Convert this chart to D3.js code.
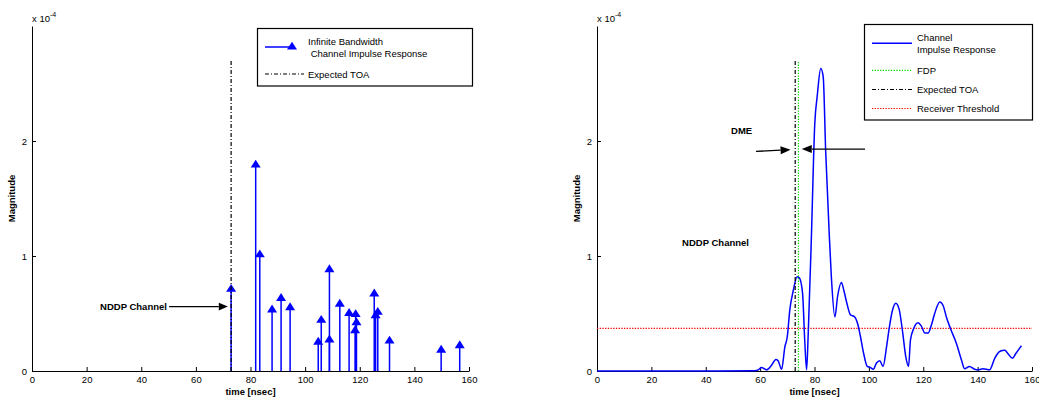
<!DOCTYPE html>
<html>
<head>
<meta charset="utf-8">
<script src="https://cdn.jsdelivr.net/npm/d3@7/dist/d3.min.js"></script>
<style>
  html, body { margin: 0; padding: 0; background: #fff; }
  svg { display: block; }
  text { font-family: "Liberation Sans", Arial, sans-serif; fill: #000; }
</style>
</head>
<body>
<svg id="fig" width="1039" height="399"></svg>
<script>
// ---- data (magnitudes in units of 1e-4, time in nsec) ----
const xTicks = [0, 20, 40, 60, 80, 100, 120, 140, 160];
const yTicks = [0, 1, 2];

// Infinite-bandwidth channel impulse response (stem taps)
const stemTimes = [72.9, 81.9, 83.4, 87.9, 91.2, 94.5, 104.8, 105.9, 108.9, 108.9,
                   112.7, 116.1, 118.5, 118.8, 118.3, 125.3, 125.8, 126.6, 130.9, 149.8, 156.6];
const stemMags  = [0.72, 1.80, 1.02, 0.54, 0.64, 0.56, 0.26, 0.45, 0.89, 0.28,
                   0.59, 0.51, 0.50, 0.43, 0.36, 0.68, 0.49, 0.52, 0.27, 0.19, 0.23];

// Band-limited channel impulse response
const cirTimes = [0, 20, 40, 58, 59.3, 60.5, 62.4, 64.2, 65.8, 66.6, 67.9, 69.1, 70.0, 70.9,
                  72.2, 73.6, 74.4, 75.6, 76.4, 77.1, 77.7, 78.9, 80.1, 81.0, 82.3, 83.2,
                  84.1, 85.4, 86.2, 87.5, 88.5, 89.9, 90.8, 91.8, 93.2, 94.8, 96.0, 96.9,
                  98.1, 99.4, 100.6, 101.6, 102.8, 104.0, 105.2, 106.5, 107.4, 108.7, 109.9,
                  111.1, 112.3, 113.6, 114.6, 115.3, 116.5, 118.1, 119.3, 120.6, 121.8, 123.0,
                  124.2, 126.1, 127.3, 128.5, 130.0, 132.2, 134.0, 135.2, 137.0, 138.9, 140.2,
                  142.0, 144.4, 146.3, 148.1, 150.0, 151.2, 152.8, 154.0, 156.1];
const cirMags  = [0, 0, 0, 0.003, 0.01, 0.03, 0.01, 0.05, 0.10, 0.09, 0.015, 0.21, 0.30, 0.53,
                  0.70, 0.82, 0.81, 0.68, 0.27, 0.01, 0.33, 1.20, 2.15, 2.39, 2.63, 2.56,
                  1.92, 1.20, 0.82, 0.47, 0.65, 0.77, 0.70, 0.60, 0.49, 0.47, 0.40, 0.30,
                  0.15, 0.04, 0.03, 0.015, 0.07, 0.09, 0.04, 0.21, 0.36, 0.53, 0.59,
                  0.54, 0.36, 0.12, 0.04, 0.27, 0.37, 0.42, 0.39, 0.33, 0.33, 0.40,
                  0.50, 0.60, 0.57, 0.47, 0.37, 0.24, 0.10, 0.02, 0.04, 0.015, 0.01,
                  0.02, 0.01, 0.11, 0.17, 0.18, 0.15, 0.11, 0.15, 0.22];

const expectedTOA = 72.9;   // nsec
const fdpTime = 74.1;       // first detected path, nsec
const markerHeight = 2.7;   // height of the vertical reference lines
const rxThreshold = 0.37;   // receiver threshold

const xDomain = [0, 160];
const yDomain = [0, 3];

// ---- layout ----
const svg = d3.select("#fig");
const plotTop = 26, plotBottom = 371;
const panels = [
  { left: 32,  right: 469 },
  { left: 597, right: 1032 }
];

const BLUE = "#0000ff";
const DASHDOT = "4,2,1,2";
const DOTTED = "1.3,1.4";

function setupPanel(p) {
  const x = d3.scaleLinear().domain(xDomain).range([p.left, p.right]);
  const y = d3.scaleLinear().domain(yDomain).range([plotBottom, plotTop]);
  const g = svg.append("g");

  const xa = g.append("g").attr("transform", `translate(0,${plotBottom})`)
    .call(d3.axisBottom(x).tickValues(xTicks).tickFormat(d3.format("d"))
      .tickSizeInner(-4).tickSizeOuter(0).tickPadding(5));
  const ya = g.append("g").attr("transform", `translate(${p.left},0)`)
    .call(d3.axisLeft(y).tickValues(yTicks).tickFormat(d3.format("d"))
      .tickSizeInner(-4).tickSizeOuter(0).tickPadding(5));
  [xa, ya].forEach(a => {
    a.selectAll("path.domain").attr("stroke", "#000").attr("stroke-width", 1);
    a.selectAll(".tick line").attr("stroke", "#000");
    a.selectAll(".tick text").attr("font-size", 9.5).attr("font-family", "Liberation Sans, Arial, sans-serif");
  });

  // exponent label
  const ex = g.append("text").attr("x", p.left).attr("y", 22).attr("font-size", 9.5);
  ex.append("tspan").text("x 10");
  ex.append("tspan").attr("dy", -5).attr("font-size", 7).text("-4");

  // axis titles
  g.append("text").attr("x", (p.left + p.right) / 2).attr("y", 395)
    .attr("text-anchor", "middle").attr("font-size", 9.5).attr("font-weight", "bold")
    .text("time [nsec]");
  g.append("text").attr("transform", `translate(${p.left - 17},${(plotTop + plotBottom) / 2}) rotate(-90)`)
    .attr("text-anchor", "middle").attr("font-size", 9.5).attr("font-weight", "bold")
    .text("Magnitude");

  return { g, x, y };
}

function arrow(g, x1, y1, x2, y2, headLen, headHalf) {
  const ang = Math.atan2(y2 - y1, x2 - x1);
  const bx = x2 - headLen * Math.cos(ang), by = y2 - headLen * Math.sin(ang);
  g.append("line").attr("x1", x1).attr("y1", y1).attr("x2", bx).attr("y2", by)
    .attr("stroke", "#000").attr("stroke-width", 1.3);
  const px = -Math.sin(ang) * headHalf, py = Math.cos(ang) * headHalf;
  g.append("path")
    .attr("d", `M${x2},${y2}L${bx + px},${by + py}L${bx - px},${by - py}Z`)
    .attr("fill", "#000");
}

const triPath = "M0,-4.3L5,3.6L-5,3.6Z";

// ---- left panel: stem plot ----
{
  const { g, x, y } = setupPanel(panels[0]);

  const stems = g.append("g");
  stemTimes.forEach((t, i) => {
    stems.append("line")
      .attr("x1", x(t)).attr("x2", x(t))
      .attr("y1", y(0)).attr("y2", y(stemMags[i]))
      .attr("stroke", BLUE).attr("stroke-width", 1.5);
  });
  stemTimes.forEach((t, i) => {
    stems.append("path").attr("d", triPath)
      .attr("transform", `translate(${x(t)},${y(stemMags[i])})`)
      .attr("fill", BLUE);
  });

  g.append("line")
    .attr("x1", x(expectedTOA)).attr("x2", x(expectedTOA))
    .attr("y1", y(0)).attr("y2", y(markerHeight))
    .attr("stroke", "#000").attr("stroke-width", 1.2).attr("stroke-dasharray", DASHDOT);

  // annotation
  g.append("text").attr("x", x(49.4)).attr("y", y(0.56)).attr("dy", "0.35em")
    .attr("text-anchor", "end").attr("font-size", 9.5).attr("font-weight", "bold")
    .text("NDDP Channel");
  arrow(g, x(50.2), y(0.56), x(71.7), y(0.56), 9, 3.8);

  // legend
  const lg = g.append("g");
  lg.append("rect").attr("x", 257.5).attr("y", 28.5).attr("width", 215).attr("height", 57.5)
    .attr("fill", "#fff").attr("stroke", "#000").attr("stroke-width", 1.2);
  lg.append("line").attr("x1", 265).attr("x2", 294).attr("y1", 47).attr("y2", 47)
    .attr("stroke", BLUE).attr("stroke-width", 1.5);
  lg.append("path").attr("d", triPath).attr("transform", "translate(292,46)").attr("fill", BLUE);
  lg.append("text").attr("x", 308).attr("y", 45).attr("font-size", 9.5).text("Infinite Bandwidth");
  lg.append("text").attr("x", 308).attr("y", 57).attr("font-size", 9.5).attr("xml:space", "preserve")
    .text(" Channel Impulse Response");
  lg.append("line").attr("x1", 265).attr("x2", 304).attr("y1", 74).attr("y2", 74)
    .attr("stroke", "#000").attr("stroke-width", 1.2).attr("stroke-dasharray", DASHDOT);
  lg.append("text").attr("x", 308).attr("y", 77.5).attr("font-size", 9.5).text("Expected TOA");
}

// ---- right panel: band-limited response ----
{
  const { g, x, y } = setupPanel(panels[1]);

  // receiver threshold
  g.append("line")
    .attr("x1", x(xDomain[0])).attr("x2", x(xDomain[1]))
    .attr("y1", y(rxThreshold)).attr("y2", y(rxThreshold))
    .attr("stroke", "#ff0000").attr("stroke-width", 1.2).attr("stroke-dasharray", DOTTED);

  const line = d3.line()
    .x((d, i) => x(cirTimes[i]))
    .y(d => y(d))
    .curve(d3.curveMonotoneX);
  g.append("path").datum(cirMags).attr("d", line)
    .attr("fill", "none").attr("stroke", BLUE).attr("stroke-width", 1.5)
    .attr("stroke-linejoin", "round");

  g.append("line")
    .attr("x1", x(fdpTime)).attr("x2", x(fdpTime))
    .attr("y1", y(0)).attr("y2", y(markerHeight))
    .attr("stroke", "#00e000").attr("stroke-width", 1.2).attr("stroke-dasharray", DOTTED);
  g.append("line")
    .attr("x1", x(expectedTOA)).attr("x2", x(expectedTOA))
    .attr("y1", y(0)).attr("y2", y(markerHeight))
    .attr("stroke", "#000").attr("stroke-width", 1.2).attr("stroke-dasharray", DASHDOT);

  // annotations
  g.append("text").attr("x", x(49.3)).attr("y", y(2.09)).attr("dy", "0.35em")
    .attr("font-size", 9.5).attr("font-weight", "bold").text("DME");
  arrow(g, x(58.5), y(1.91), x(71.2), y(1.924), 10, 4);
  arrow(g, x(98.6), y(1.93), x(75.3), y(1.93), 10, 4);
  g.append("text").attr("x", x(31.3)).attr("y", y(1.116)).attr("dy", "0.35em")
    .attr("font-size", 9.5).attr("font-weight", "bold").text("NDDP Channel");

  // legend
  const lg = g.append("g");
  lg.append("rect").attr("x", 864.5).attr("y", 24.5).attr("width", 168).attr("height", 95.5)
    .attr("fill", "#fff").attr("stroke", "#000").attr("stroke-width", 1.2);
  const lx1 = 872, lx2 = 912, tx = 917;
  lg.append("line").attr("x1", lx1).attr("x2", lx2).attr("y1", 43.3).attr("y2", 43.3)
    .attr("stroke", BLUE).attr("stroke-width", 1.5);
  lg.append("text").attr("x", tx).attr("y", 40.5).attr("font-size", 9.5).text("Channel");
  lg.append("text").attr("x", tx).attr("y", 52.5).attr("font-size", 9.5).text("Impulse Response");
  lg.append("line").attr("x1", lx1).attr("x2", lx2).attr("y1", 70.3).attr("y2", 70.3)
    .attr("stroke", "#00e000").attr("stroke-width", 1.2).attr("stroke-dasharray", DOTTED);
  lg.append("text").attr("x", tx).attr("y", 73.7).attr("font-size", 9.5).text("FDP");
  lg.append("line").attr("x1", lx1).attr("x2", lx2).attr("y1", 89.5).attr("y2", 89.5)
    .attr("stroke", "#000").attr("stroke-width", 1.2).attr("stroke-dasharray", DASHDOT);
  lg.append("text").attr("x", tx).attr("y", 93).attr("font-size", 9.5).text("Expected TOA");
  lg.append("line").attr("x1", lx1).attr("x2", lx2).attr("y1", 108.5).attr("y2", 108.5)
    .attr("stroke", "#ff0000").attr("stroke-width", 1.2).attr("stroke-dasharray", DOTTED);
  lg.append("text").attr("x", tx).attr("y", 112).attr("font-size", 9.5).text("Receiver Threshold");
}
</script>
</body>
</html>
